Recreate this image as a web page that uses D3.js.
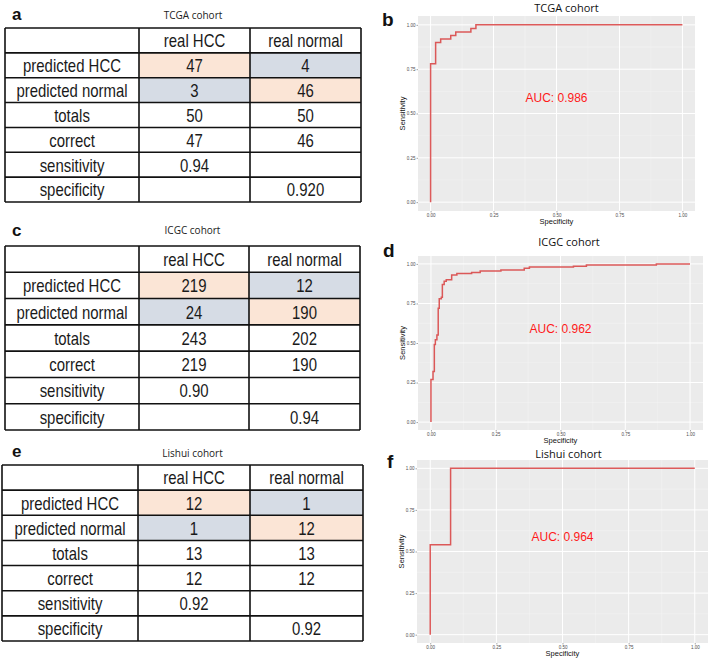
<html>
<head>
<title>HCC classifier cohorts</title>
<script src="https://d3js.org/d3.v7.min.js"></script>
<style>
body { margin: 0; background: white; }
.cell { font-family: "Liberation Sans", Arial, sans-serif; font-size: 18px; fill: #1a1a1a; }
.ttl { font-family: "Open Sans", "Noto Sans", sans-serif; font-size: 10px; fill: #222; }
.plab { font-family: "Liberation Sans", Arial, sans-serif; font-weight: bold; fill: #111; }
.tick text { font-family: "Liberation Sans", Arial, sans-serif; font-size: 4.5px; fill: #4d4d4d; }
.tick line { stroke: #4d4d4d; stroke-width: 0.5; }
.axt { font-family: "Liberation Sans", Arial, sans-serif; font-size: 7.5px; fill: #111; }
.auc { font-family: "Liberation Sans", Arial, sans-serif; font-size: 12px; fill: #ff1a1a; }
.rtitle { font-family: "Open Sans", "Noto Sans", sans-serif; font-size: 11px; fill: #111; }
</style>
</head>
<body>
<svg id="fig" width="708" height="661"></svg>
<script>
// data
var cohorts = ["TCGA cohort", "ICGC cohort", "Lishui cohort"];
var panelLetters = [["a", "b"], ["c", "d"], ["e", "f"]];
var colLabels = ["real HCC", "real normal"];
var rowLabels = ["predicted HCC", "predicted normal", "totals", "correct", "sensitivity", "specificity"];
var tcgaTable = [["47", "4"], ["3", "46"], ["50", "50"], ["47", "46"], ["0.94", ""], ["", "0.920"]];
var icgcTable = [["219", "12"], ["24", "190"], ["243", "202"], ["219", "190"], ["0.90", ""], ["", "0.94"]];
var lishuiTable = [["12", "1"], ["1", "12"], ["13", "13"], ["12", "12"], ["0.92", ""], ["", "0.92"]];
var aucValues = ["0.986", "0.962", "0.964"];
var axisTicks = [0, 0.25, 0.5, 0.75, 1];
var minorTicks = [0.125, 0.375, 0.625, 0.875];

// roc curves: [1 - specificity, sensitivity] corner points
var tcgaRoc = [[0, 0], [0, 0.78], [0.02, 0.90], [0.04, 0.92], [0.08, 0.94], [0.10, 0.96], [0.16, 0.98], [0.18, 1], [1, 1]];
var icgcRoc = [[0, 0], [0, 0.27], [0.008, 0.32], [0.013, 0.49], [0.017, 0.52], [0.023, 0.55], [0.028, 0.72],
  [0.032, 0.78], [0.04, 0.79], [0.044, 0.87], [0.051, 0.89], [0.059, 0.90], [0.08, 0.93], [0.10, 0.94],
  [0.157, 0.945], [0.19, 0.955], [0.27, 0.962], [0.36, 0.972], [0.38, 0.98], [0.55, 0.985], [0.60, 0.993],
  [0.87, 1], [1, 1]];
var lishuiRoc = [[0, 0], [0, 0.54], [0.077, 1], [1, 1]];

var tables = [tcgaTable, icgcTable, lishuiTable];
var rocs = [tcgaRoc, icgcRoc, lishuiRoc];

// layout for each row of the figure
var tableBox = [
  {x0: 5, x1: 361, y0: 28, y1: 202, cols: [139, 250], titleY: 19, letterY: 20},
  {x0: 5, x1: 360, y0: 246, y1: 430, cols: [139, 249], titleY: 234, letterY: 236},
  {x0: 2, x1: 363, y0: 465, y1: 641, cols: [138, 250], titleY: 457, letterY: 457}
];
var plotBox = [
  {x0: 418, x1: 695, y0: 16, y1: 211, titleY: 12, letterX: 382, letterY: 26},
  {x0: 418, x1: 703, y0: 256, y1: 430, titleY: 246, letterX: 383, letterY: 257},
  {x0: 417, x1: 708, y0: 460, y1: 643, titleY: 458, letterX: 387, letterY: 468}
];

var svg = d3.select("#fig");
var peach = "#fbe5d6", slate = "#d6dce5";

tables.forEach(function(tab, k) {
  var b = tableBox[k];
  var g = svg.append("g");
  var nRows = rowLabels.length + 1;
  var rowY = d3.scaleLinear().domain([0, nRows]).range([b.y0, b.y1]);
  var colX = [b.x0, b.cols[0], b.cols[1], b.x1];

  g.append("text").attr("class", "plab").attr("x", 12).attr("y", b.letterY)
    .style("font-size", "17px").text(panelLetters[k][0]);
  g.append("text").attr("class", "ttl").attr("x", (b.x0 + b.x1) / 2 + 10).attr("y", b.titleY)
    .attr("text-anchor", "middle").text(cohorts[k]);

  // shaded confusion cells
  [[0, 0, peach], [0, 1, slate], [1, 0, slate], [1, 1, peach]].forEach(function(c) {
    g.append("rect")
      .attr("x", colX[c[1] + 1]).attr("y", rowY(c[0] + 1))
      .attr("width", colX[c[1] + 2] - colX[c[1] + 1])
      .attr("height", rowY(c[0] + 2) - rowY(c[0] + 1))
      .attr("fill", c[2]);
  });

  function cellText(txt, ci, ri) {
    var cx = (colX[ci] + colX[ci + 1]) / 2;
    var cy = (rowY(ri) + rowY(ri + 1)) / 2 + 6.8;
    g.append("text").attr("class", "cell")
      .attr("transform", "translate(" + cx + "," + cy + ") scale(0.83,1)")
      .attr("text-anchor", "middle").text(txt);
  }
  colLabels.forEach(function(c, i) { cellText(c, i + 1, 0); });
  rowLabels.forEach(function(r, i) {
    cellText(r, 0, i + 1);
    tab[i].forEach(function(v, j) { if (v) cellText(v, j + 1, i + 1); });
  });

  // grid lines
  d3.range(nRows + 1).forEach(function(i) {
    g.append("line").attr("x1", b.x0).attr("x2", b.x1).attr("y1", rowY(i)).attr("y2", rowY(i))
      .attr("stroke", "#111").attr("stroke-width", 1.6);
  });
  colX.forEach(function(x) {
    g.append("line").attr("x1", x).attr("x2", x).attr("y1", b.y0).attr("y2", b.y1)
      .attr("stroke", "#111").attr("stroke-width", 1.6);
  });
});

rocs.forEach(function(data, k) {
  var p = plotBox[k];
  var g = svg.append("g");
  var x = d3.scaleLinear().domain([-0.05, 1.05]).range([p.x0, p.x1]);
  var y = d3.scaleLinear().domain([-0.05, 1.05]).range([p.y1, p.y0]);

  g.append("rect").attr("x", p.x0).attr("y", p.y0).attr("width", p.x1 - p.x0).attr("height", p.y1 - p.y0)
    .attr("fill", "#ebebeb");
  minorTicks.forEach(function(t) {
    g.append("line").attr("x1", x(t)).attr("x2", x(t)).attr("y1", p.y0).attr("y2", p.y1)
      .attr("stroke", "#f5f5f5").attr("stroke-width", 0.5);
    g.append("line").attr("y1", y(t)).attr("y2", y(t)).attr("x1", p.x0).attr("x2", p.x1)
      .attr("stroke", "#f5f5f5").attr("stroke-width", 0.5);
  });
  axisTicks.forEach(function(t) {
    g.append("line").attr("x1", x(t)).attr("x2", x(t)).attr("y1", p.y0).attr("y2", p.y1)
      .attr("stroke", "#fff").attr("stroke-width", 1);
    g.append("line").attr("y1", y(t)).attr("y2", y(t)).attr("x1", p.x0).attr("x2", p.x1)
      .attr("stroke", "#fff").attr("stroke-width", 1);
  });

  var xa = g.append("g").attr("transform", "translate(0," + p.y1 + ")")
    .call(d3.axisBottom(x).tickValues(axisTicks).tickFormat(d3.format(".2f")).tickSize(1.5).tickPadding(1));
  var ya = g.append("g").attr("transform", "translate(" + p.x0 + ",0)")
    .call(d3.axisLeft(y).tickValues(axisTicks).tickFormat(d3.format(".2f")).tickSize(1.5).tickPadding(1));
  xa.select(".domain").remove();
  ya.select(".domain").remove();

  var line = d3.line().x(function(d) { return x(d[0]); }).y(function(d) { return y(d[1]); })
    .curve(d3.curveStepAfter);
  g.append("path").datum(data).attr("d", line).attr("fill", "none")
    .attr("stroke", "#d94848").attr("stroke-width", 1.5).attr("stroke-opacity", 0.9);

  g.append("text").attr("class", "auc").attr("x", x(0.5)).attr("y", y(0.59) + 4)
    .attr("text-anchor", "middle").text("AUC: " + aucValues[k]);

  g.append("text").attr("class", "rtitle").attr("x", (p.x0 + Math.min(p.x1, 700)) / 2 + 10).attr("y", p.titleY)
    .attr("text-anchor", "middle").text(cohorts[k]);
  g.append("text").attr("class", "plab").attr("x", p.letterX).attr("y", p.letterY)
    .style("font-size", "19px").text(panelLetters[k][1]);

  g.append("text").attr("class", "axt").attr("x", x(0.5)).attr("y", p.y1 + 12.5)
    .attr("text-anchor", "middle").text("Specificity");
  g.append("text").attr("class", "axt")
    .attr("transform", "translate(" + (p.x0 - 13) + "," + ((p.y0 + p.y1) / 2) + ") rotate(-90)")
    .attr("text-anchor", "middle").text("Sensitivity");
});
</script>
</body>
</html>
